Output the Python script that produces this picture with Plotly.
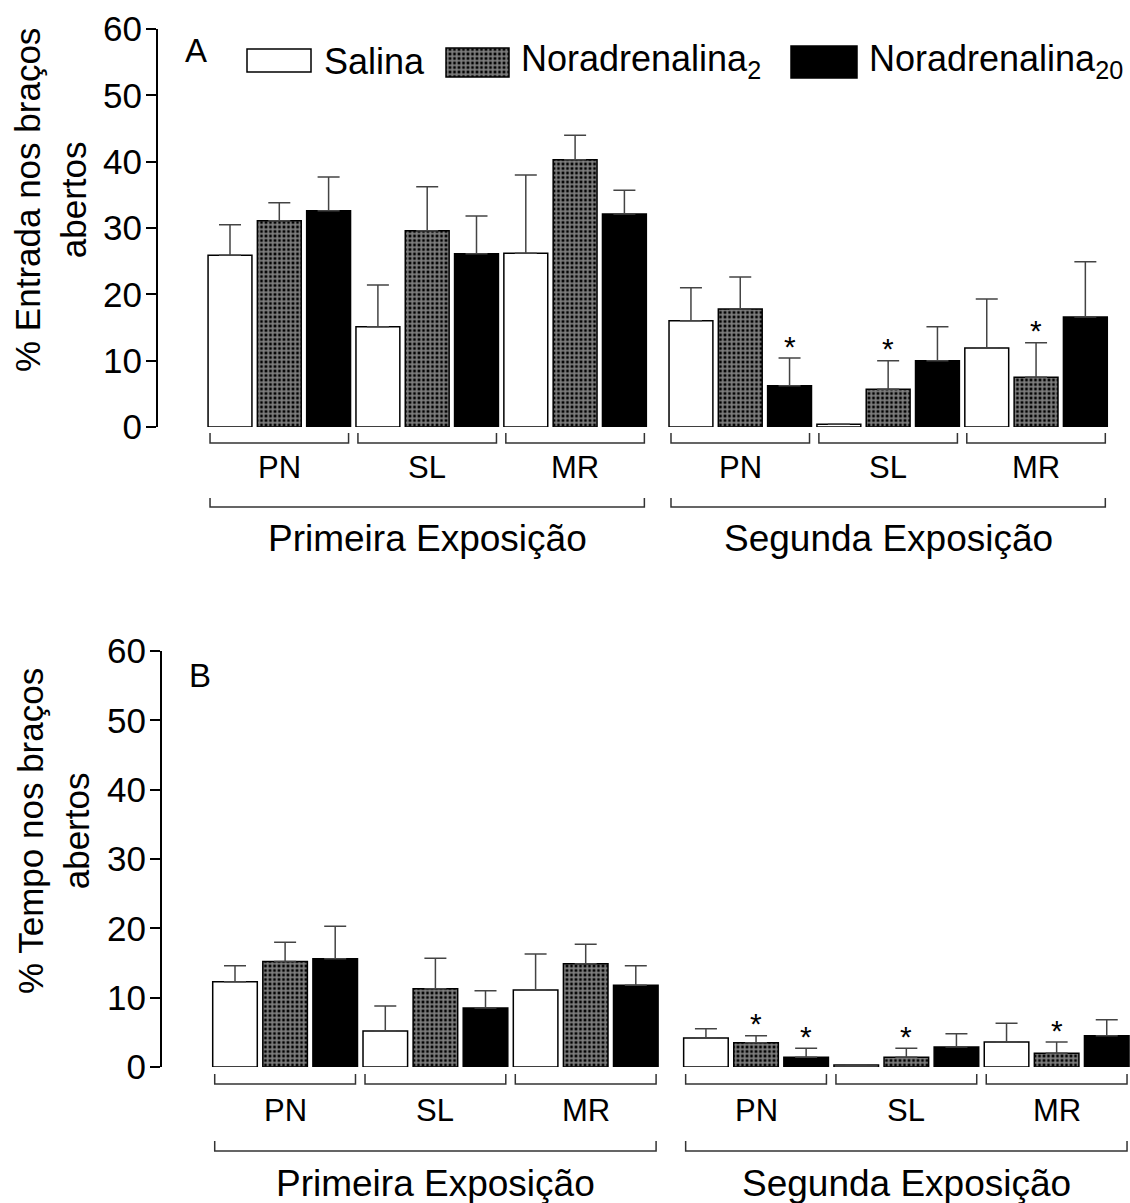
import plotly.graph_objects as go

# ---------------- data ----------------
groups = ["PN", "SL", "MR", "PN", "SL", "MR"]
exposures = ["Primeira Exposição", "Segunda Exposição"]
series_names = ["Salina", "Noradrenalina<sub>2</sub>", "Noradrenalina<sub>20</sub>"]

# Panel A: % Entrada nos braços abertos (order PN1, SL1, MR1, PN2, SL2, MR2)
entrada_salina = [25.9, 15.1, 26.2, 16.0, 0.4, 11.9]
entrada_salina_err = [4.6, 6.3, 11.8, 5.0, 0.0, 7.4]
entrada_nor2 = [31.1, 29.6, 40.3, 17.8, 5.7, 7.5]
entrada_nor2_err = [2.7, 6.6, 3.7, 4.8, 4.3, 5.2]
entrada_nor20 = [32.6, 26.1, 32.1, 6.2, 10.0, 16.6]
entrada_nor20_err = [5.1, 5.7, 3.6, 4.2, 5.1, 8.3]
entrada_sig_salina = [False] * 6
entrada_sig_nor2 = [False, False, False, False, True, True]
entrada_sig_nor20 = [False, False, False, True, False, False]

# Panel B: % Tempo nos braços abertos
tempo_salina = [12.3, 5.2, 11.1, 4.2, 0.3, 3.6]
tempo_salina_err = [2.3, 3.6, 5.2, 1.3, 0.0, 2.7]
tempo_nor2 = [15.2, 11.3, 14.9, 3.5, 1.4, 2.0]
tempo_nor2_err = [2.8, 4.4, 2.8, 1.0, 1.3, 1.6]
tempo_nor20 = [15.6, 8.5, 11.8, 1.4, 2.9, 4.5]
tempo_nor20_err = [4.7, 2.5, 2.8, 1.3, 1.9, 2.3]
tempo_sig_salina = [False] * 6
tempo_sig_nor2 = [False, False, False, True, True, True]
tempo_sig_nor20 = [False, False, False, True, False, False]

y_ticks = [0, 10, 20, 30, 40, 50, 60]

# ---------------- layout helpers ----------------
W, H = 1130, 1203
FONT = "Liberation Sans, Arial, Helvetica, sans-serif"


def px_x(p):
    return p / W


def px_y(p):
    return 1 - p / H


dot_pattern = dict(shape="+", fgcolor="white", bgcolor="black", size=4.5, solidity=0.65)
styles = [
    dict(color="white", pattern=dict(shape="")),
    dict(color="black", pattern=dot_pattern),
    dict(color="black", pattern=dict(shape="")),
]

panels = [
    dict(xa="x", ya="y", xaxis="xaxis", yaxis="yaxis",
         vals=[entrada_salina, entrada_nor2, entrada_nor20],
         errs=[entrada_salina_err, entrada_nor2_err, entrada_nor20_err],
         sigs=[entrada_sig_salina, entrada_sig_nor2, entrada_sig_nor20],
         ytop=29, ybot=427, axis_px=158, ppu=49.3, first_c=230.0, gap=0.35, bw=0.89,
         small_y=(433, 443), grp_lbl_y=468, big_y=(498, 507), exp_lbl_y=538,
         title="% Entrada nos braços<br>abertos", title_x=50, title_y=200,
         letter="A", letter_xy=(196, 50)),
    dict(xa="x2", ya="y2", xaxis="xaxis2", yaxis="yaxis2",
         vals=[tempo_salina, tempo_nor2, tempo_nor20],
         errs=[tempo_salina_err, tempo_nor2_err, tempo_nor20_err],
         sigs=[tempo_sig_salina, tempo_sig_nor2, tempo_sig_nor20],
         ytop=651, ybot=1067, axis_px=162, ppu=50.1, first_c=235.0, gap=0.40, bw=0.89,
         small_y=(1074, 1084), grp_lbl_y=1110, big_y=(1141, 1151), exp_lbl_y=1183,
         title="% Tempo nos braços<br>abertos", title_x=53, title_y=831,
         letter="B", letter_xy=(200, 675)),
]

fig = go.Figure()
shapes = []
annotations = []


def text_ann(x, y, text, size, xref="paper", yref="paper", **kw):
    d = dict(x=x, y=y, xref=xref, yref=yref, text=text, showarrow=False,
             xanchor="center", yanchor="middle",
             font=dict(size=size, color="black", family=FONT))
    d.update(kw)
    return d


for P in panels:
    n = len(groups)

    def pos(i, s, P=P):
        return i * 3 + s + (P["gap"] if i >= 3 else 0.0)

    for s in range(3):
        xs = [pos(i, s) for i in range(n)]
        fig.add_trace(go.Bar(
            x=xs, y=P["vals"][s], width=P["bw"], xaxis=P["xa"], yaxis=P["ya"],
            marker=dict(color=styles[s]["color"], pattern=styles[s]["pattern"],
                        line=dict(color="black", width=1.5)),
            error_y=dict(type="data", symmetric=False, array=P["errs"][s],
                         arrayminus=[0] * n, color="#444", thickness=1.5, width=11),
            showlegend=False, name=series_names[s], hoverinfo="skip",
        ))
        for i in range(n):
            if P["sigs"][s][i]:
                annotations.append(text_ann(xs[i], P["vals"][s][i] + P["errs"][s][i], "*", 30,
                                            xref=P["xa"], yref=P["ya"], yshift=12))

    # small group brackets
    y_up, y_base = px_y(P["small_y"][0]), px_y(P["small_y"][1])
    inset = 0.04
    for i in range(n):
        x0 = pos(i, 0) - P["bw"] / 2 + inset
        x1 = pos(i, 2) + P["bw"] / 2 - inset
        shapes.append(dict(type="path", xref=P["xa"], yref="paper",
                           path=f"M{x0},{y_up} L{x0},{y_base} L{x1},{y_base} L{x1},{y_up}",
                           line=dict(color="#333", width=1.5)))
        annotations.append(text_ann((x0 + x1) / 2, px_y(P["grp_lbl_y"]), groups[i], 31,
                                    xref=P["xa"]))
    # exposure brackets
    y_up, y_base = px_y(P["big_y"][0]), px_y(P["big_y"][1])
    for e in range(2):
        x0 = pos(3 * e, 0) - P["bw"] / 2 + inset
        x1 = pos(3 * e + 2, 2) + P["bw"] / 2 - inset
        shapes.append(dict(type="path", xref=P["xa"], yref="paper",
                           path=f"M{x0},{y_up} L{x0},{y_base} L{x1},{y_base} L{x1},{y_up}",
                           line=dict(color="#333", width=1.5)))
        annotations.append(text_ann((x0 + x1) / 2, px_y(P["exp_lbl_y"]), exposures[e], 37,
                                    xref=P["xa"]))

    # axis title and panel letter
    annotations.append(text_ann(px_x(P["title_x"]), px_y(P["title_y"]), P["title"], 35,
                                textangle=-90, align="center"))
    annotations.append(text_ann(px_x(P["letter_xy"][0]), px_y(P["letter_xy"][1]),
                                P["letter"], 33))

    left = (P["axis_px"] - P["first_c"]) / P["ppu"]
    right = (W - P["first_c"]) / P["ppu"]
    fig.layout[P["xaxis"]] = dict(domain=[px_x(P["axis_px"]), 1], range=[left, right],
                                  visible=False, anchor=P["ya"], automargin=False)
    fig.layout[P["yaxis"]] = dict(domain=[px_y(P["ybot"]), px_y(P["ytop"])], range=[0, 60],
                                  tickvals=y_ticks, ticks="outside", ticklen=10, tickwidth=2,
                                  tickcolor="black", showline=True, linewidth=2,
                                  linecolor="black", showgrid=False, zeroline=False,
                                  anchor=P["xa"], ticklabelstandoff=-3, automargin=False,
                                  tickfont=dict(size=35, color="black", family=FONT))

# ---------------- custom legend (separate axes in pixel units) ----------------
legend_boxes = dict(x0=[247, 446, 791], x1=[311, 509, 857],
                    y0=[49, 48, 46], y1=[72, 77, 78])
legend_text_x = [322, 519, 867]
legend_text_y = 61
fig.add_trace(go.Bar(
    x=[(a + b) / 2 for a, b in zip(legend_boxes["x0"], legend_boxes["x1"])],
    y=[b - a for a, b in zip(legend_boxes["y0"], legend_boxes["y1"])],
    base=legend_boxes["y0"],
    width=[b - a for a, b in zip(legend_boxes["x0"], legend_boxes["x1"])],
    xaxis="x3", yaxis="y3", showlegend=False, hoverinfo="skip",
    marker=dict(color=[st["color"] for st in styles],
                pattern=dict(shape=[st["pattern"]["shape"] for st in styles],
                             fgcolor="white", bgcolor="black",
                             size=dot_pattern["size"], solidity=dot_pattern["solidity"]),
                line=dict(color="black", width=1.5)),
))
for k, name in enumerate(series_names):
    annotations.append(text_ann(px_x(legend_text_x[k]), px_y(legend_text_y), name, 36,
                                xanchor="left"))

fig.update_layout(
    xaxis3=dict(domain=[0, 1], range=[0, W], visible=False, anchor="y3", automargin=False),
    yaxis3=dict(domain=[0, 1], range=[H, 0], visible=False, anchor="x3", automargin=False),
)

fig.update_layout(
    width=W, height=H, margin=dict(l=0, r=0, t=0, b=0, pad=0, autoexpand=False),
    paper_bgcolor="white", plot_bgcolor="rgba(0,0,0,0)",
    barmode="overlay", shapes=shapes, annotations=annotations,
    font=dict(family=FONT, color="black"),
)

fig.write_html("out.html", config={"displayModeBar": False},
               post_script="document.body.style.margin='0';document.body.style.padding='0';"
                           "document.body.style.overflow='hidden';")
